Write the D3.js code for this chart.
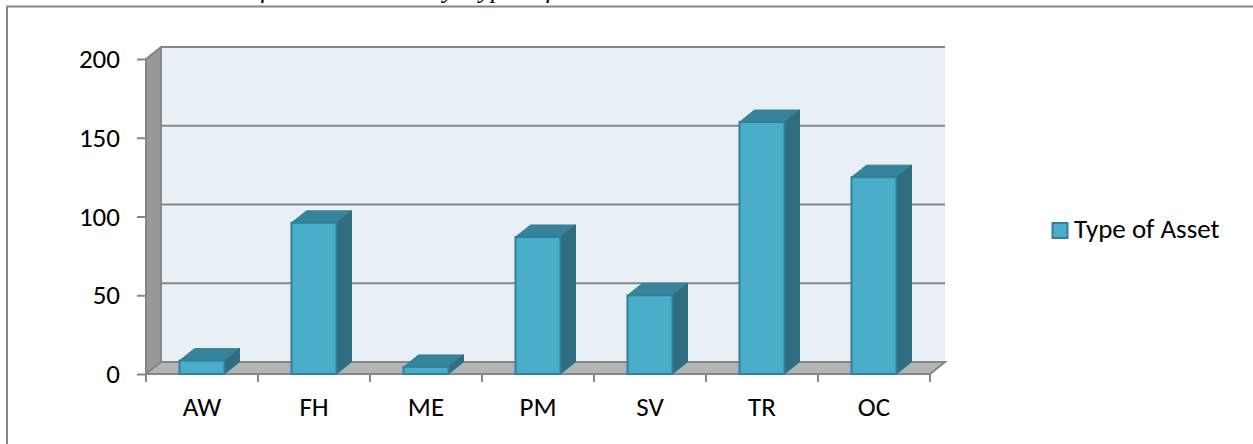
<!DOCTYPE html>
<html>
<head>
<meta charset="UTF-8">
<style>
  html, body { margin: 0; padding: 0; background: #fff; }
  svg { display: block; font-family: Carlito, Calibri, "Open Sans", sans-serif; }
</style>
</head>
<body>
<script src="https://cdn.jsdelivr.net/npm/d3@7"></script>
<script>
var categories = ['AW', 'FH', 'ME', 'PM', 'SV', 'TR', 'OC']
var assetValues = [8.5, 96, 4.5, 87, 50, 160, 125]
var yTicks = [0, 50, 100, 150, 200]
var seriesName = 'Type of Asset'
// only the descenders of this line show in the picture, the wording is a guess
var captionText = 'Distribution of total assets by type of asset'

var width = 1253, height = 444
var depthX = 15, depthY = 12, barWidth = 45
var labelFont = 'Carlito, Calibri, "Open Sans", sans-serif'

var svg = d3.select('body').append('svg').attr('width', width).attr('height', height)

var x = d3.scaleBand().domain(categories).range([146, 930])
var y = d3.scaleLinear().domain([0, 200]).range([374, 59])

// caption cut off at the top of the picture
svg.append('text').attr('x', 103).attr('y', -2)
  .style('font-family', '"Liberation Serif", serif').style('font-style', 'italic')
  .style('font-size', '26px').style('word-spacing', '11px').attr('fill', '#000').text(captionText)

// outer frame
svg.append('path').attr('d', 'M7,444V6.5H1253').attr('fill', 'none').attr('stroke', '#868686').attr('stroke-width', 2)

function poly(pts) { return 'M' + pts.join('L') + 'Z' }

var x0 = x.range()[0], x1 = x.range()[1], y0 = y(0), yT = y(200)

// back wall, side wall, floor
svg.append('path').attr('d', poly([[x0 + depthX, yT - depthY], [x1 + depthX, yT - depthY], [x1 + depthX, y0 - depthY], [x0 + depthX, y0 - depthY]])).attr('fill', '#e8eff5')
svg.append('path').attr('d', poly([[x0, yT], [x0 + depthX, yT - depthY], [x0 + depthX, y0 - depthY], [x0, y0]])).attr('fill', '#96999c').attr('stroke', '#868686').attr('stroke-width', 2)
svg.append('path').attr('d', poly([[x0, y0], [x0 + depthX, y0 - depthY], [x1 + depthX, y0 - depthY], [x1, y0]])).attr('fill', '#b2b5b8').attr('stroke', '#868686').attr('stroke-width', 2)

// gridlines on the back wall
svg.append('g').selectAll('path').data(yTicks.slice(1)).enter().append('path')
  .attr('d', function(d) {
    return 'M' + (x0 + depthX) + ',' + (y(d) - depthY) + 'H' + (x1 + depthX)
  })
  .attr('fill', 'none').attr('stroke', '#868686').attr('stroke-width', 2)

// y axis
var yAxis = svg.append('g').attr('transform', 'translate(' + x0 + ',0)')
  .call(d3.axisLeft(y).tickValues(yTicks).tickSize(9).tickPadding(17))
yAxis.select('.domain').remove()
yAxis.selectAll('line').attr('stroke', '#868686').attr('stroke-width', 2)
yAxis.selectAll('text').attr('fill', '#000').style('font-size', '27px').style('font-family', labelFont)

// x axis
var xAxis = svg.append('g').attr('transform', 'translate(0,' + y0 + ')')
  .call(d3.axisBottom(x).tickSizeOuter(0).tickSize(0).tickPadding(23))
xAxis.select('.domain').remove()
xAxis.selectAll('text').attr('fill', '#000').style('font-size', '27px').style('font-family', labelFont)
svg.append('g').selectAll('line').data(d3.range(categories.length + 1)).enter().append('line')
  .attr('x1', function(i) { return x0 + i * x.step() }).attr('x2', function(i) { return x0 + i * x.step() })
  .attr('y1', y0).attr('y2', y0 + 8).attr('stroke', '#868686').attr('stroke-width', 2)

// bars
var bars = svg.append('g').selectAll('g').data(assetValues).enter().append('g')
function barLeft(d, i) { return x(categories[i]) + (x.bandwidth() - barWidth) / 2 }

bars.append('path').attr('d', function(d, i) {
  var l = barLeft(d, i), t = y(d)
  return poly([[l, t], [l + depthX, t - depthY], [l + barWidth + depthX, t - depthY], [l + barWidth, t]])
}).attr('fill', '#37849a').attr('stroke', '#37849a')

bars.append('path').attr('d', function(d, i) {
  var r = barLeft(d, i) + barWidth, t = y(d)
  return poly([[r, t], [r + depthX, t - depthY], [r + depthX, y0 - depthY], [r, y0]])
}).attr('fill', '#2f6e80').attr('stroke', '#2f6e80')

bars.append('rect')
  .attr('x', barLeft)
  .attr('y', function(d) { return y(d) })
  .attr('width', barWidth)
  .attr('height', function(d) { return y0 - y(d) })
  .attr('fill', '#4aadc9').attr('stroke', '#2f8198').attr('stroke-width', 2)

// legend
svg.append('rect').attr('x', 1052.5).attr('y', 223).attr('width', 15).attr('height', 15)
  .attr('fill', '#4aadc9').attr('stroke', '#2f8198').attr('stroke-width', 2)
svg.append('text').attr('x', 1074).attr('y', 238).attr('fill', '#000').style('font-size', '27px').text(seriesName)
</script>
</body>
</html>
